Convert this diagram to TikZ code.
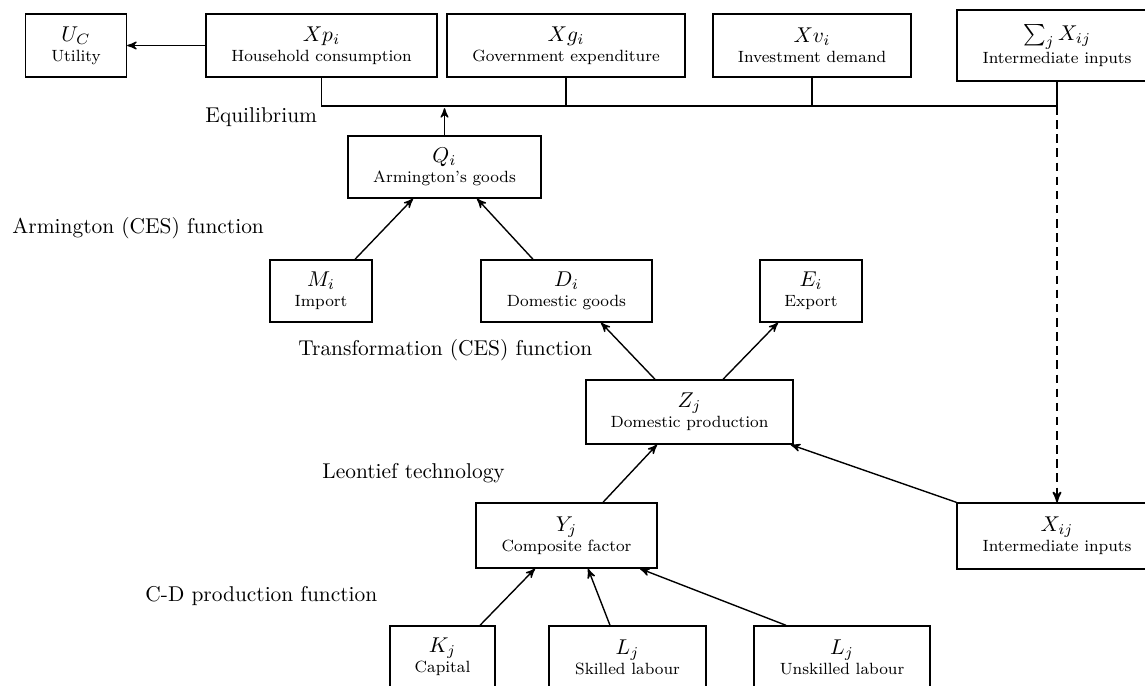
\documentclass[tikz,border=0pt]{standalone}
\usetikzlibrary{calc,arrows}
\begin{document}
\begin{tikzpicture}[x=0.467pt,y=-0.467pt,
  >=stealth',
  box/.style={draw,line width=0.65pt,inner sep=0pt,align=center,font=\fontsize{7.6}{9.4}\selectfont},
  sz/.style 2 args={minimum width=#1*0.467pt,minimum height=#2*0.467pt},
  arr/.style={->,line width=0.65pt},
  bus/.style={line width=0.9pt},
  dasharr/.style={->,line width=0.8pt,dash pattern=on 4pt off 2.6pt},
  lab/.style={anchor=west,inner sep=0pt,font=\normalsize}]
\useasboundingbox (0,0) rectangle (1145,686);
\clip (0,0) rectangle (1145,686);
% top row
\node[box,sz={101}{63}] (uc) at (76,45.5) {{\normalsize $U_C$}\\Utility};
\node[box,sz={231}{63}] (xp) at (321.5,45.5) {{\normalsize $X p_i$}\\Household consumption};
\node[box,sz={238}{63}] (xg) at (566,45.5) {{\normalsize $X g_i$}\\Government expenditure};
\node[box,sz={198}{63}] (xv) at (812,45.5) {{\normalsize $X v_i$}\\Investment demand};
\node[box,sz={200}{71}] (sx) at (1057,45.5) {{\normalsize $\sum_j X_{ij}$}\\Intermediate inputs};
% middle
\node[box,sz={193}{62}] (q) at (444.5,167) {{\normalsize $Q_i$}\\Armington's goods};
\node[box,sz={102}{62}] (m) at (321,291) {{\normalsize $M_i$}\\Import};
\node[box,sz={171}{62}] (d) at (566.5,291) {{\normalsize $D_i$}\\Domestic goods};
\node[box,sz={102}{62}] (e) at (811,291) {{\normalsize $E_i$}\\Export};
\node[box,sz={207}{64}] (z) at (689.5,412) {{\normalsize $Z_j$}\\Domestic production};
\node[box,sz={181}{65}] (y) at (566.5,535.5) {{\normalsize $Y_j$}\\Composite factor};
\node[box,sz={200}{66}] (xij) at (1057,536) {{\normalsize $X_{ij}$}\\Intermediate inputs};
% bottom
\node[box,sz={105}{62}] (k) at (442.5,657) {{\normalsize $K_j$}\\Capital};
\node[box,sz={157}{62}] (ls) at (627.5,657) {{\normalsize $L_j$}\\Skilled labour};
\node[box,sz={176}{62}] (lu) at (842,657) {{\normalsize $L_j$}\\Unskilled labour};
% side labels
\node[lab] (l1) at (205,117) {Equilibrium};
\node[lab] (l2) at (12,228) {Armington (CES) function};
\node[lab] (l3) at (298,350) {Transformation (CES) function};
\node[lab] (l4) at (322,473) {Leontief technology};
\node[lab] (l5) at (145,596) {C-D production function};
% bus
\coordinate (busR) at (1057,106);
\draw[bus] (xp.south) -- (xp.south |- busR) -- (busR);
\draw[bus] (xg.south) -- (xg.south |- busR);
\draw[bus] (xv.south) -- (xv.south |- busR);
\draw[bus] (sx.south) -- (busR);
\draw[dasharr] (busR) -- (xij.north);
\draw[arr,shorten >=1pt] (q.north) -- (q.north |- busR);
\draw[arr] (xp.west) -- (uc.east);
% arrows
\draw[arr] ($(m.north)+(34,0)$) -- ($(q.south)+(-31.5,0)$);
\draw[arr] ($(d.north)+(-33.5,0)$) -- ($(q.south)+(32.5,0)$);
\draw[arr] ($(z.north)+(-34.5,0)$) -- ($(d.south)+(34.5,0)$);
\draw[arr] ($(z.north)+(33.5,0)$) -- ($(e.south)+(-33,0)$);
\draw[arr] ($(y.north)+(36.5,0)$) -- ($(z.south)+(-32.5,0)$);
\draw[arr] (xij.north west) -- ($(z.south east)+(-3,0)$);
\draw[arr] ($(k.north)+(37.5,0)$) -- ($(y.south)+(-31.5,0)$);
\draw[arr] ($(ls.north)+(-17.5,0)$) -- ($(y.south)+(21.5,0)$);
\draw[arr] ($(lu.north)+(-56,0)$) -- ($(y.south)+(73.5,0)$);
\end{tikzpicture}
\end{document}
